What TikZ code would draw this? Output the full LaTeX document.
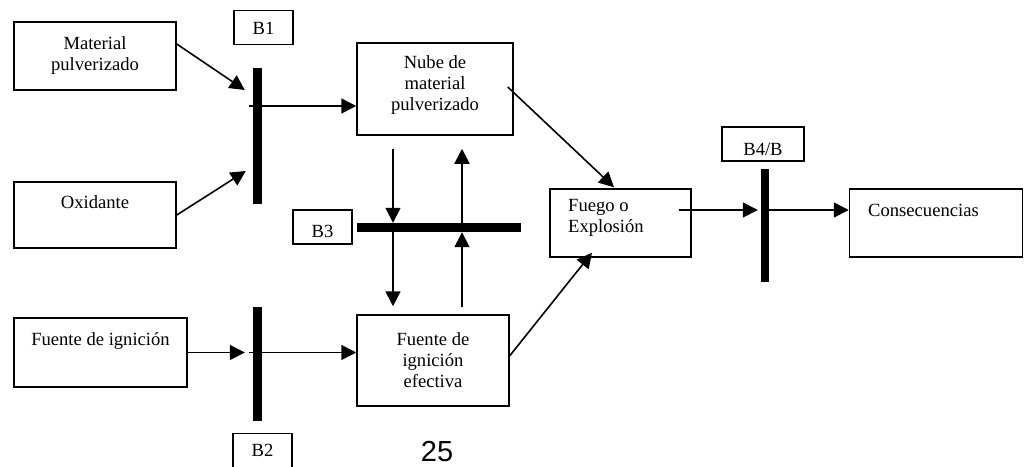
\documentclass[tikz,border=0pt]{standalone}
\usepackage{fontspec}
\setmainfont{Liberation Serif}
\newfontfamily\numfont{Liberation Sans}
\usetikzlibrary{arrows.meta}

\begin{document}
\begin{tikzpicture}[x=1pt,y=-1pt,>={Triangle[length=15pt,width=15pt]},
  box/.style={draw,line width=1.5pt,inner sep=0pt,align=center,font=\fontsize{18.6}{21}\selectfont},
  blab/.style={draw,line width=1.5pt,inner sep=0pt,minimum height=34pt,font=\fontsize{18.6}{21}\selectfont},
  bar/.style={fill=black,inner sep=0pt},
  txt/.style={inner sep=0pt,align=left,font=\fontsize{18.6}{21}\selectfont},
  arr/.style={->,line width=1.6pt}]
\useasboundingbox (0,0) rectangle (1024,466);
\clip (0,0) rectangle (1024,466);
% cajas
\node[box,minimum width=162pt,minimum height=68pt] (mat) at (95,56) {Material\\pulverizado};
\node[box,minimum width=162pt,minimum height=66pt] (ox) at (95,215) {};
\node[txt,anchor=base] (oxt) at (95,208) {Oxidante};
\node[box,minimum width=173pt,minimum height=69pt] (fig) at (100.5,352.5) {};
\node[txt,anchor=base] (figt) at (100.5,345) {Fuente de ignición};
\node[box,minimum width=156pt,minimum height=92pt,text depth=11pt] (nube) at (435,89) {Nube de\\material\\pulverizado};
\node[box,minimum width=152pt,minimum height=91pt] (fie) at (433,360.5) {Fuente de\\ignición\\efectiva};
\node[box,minimum width=141pt,minimum height=68pt] (fuego) at (620.5,223) {};
\node[txt,anchor=north west] (fuegot) at (568,199) {Fuego o\\Explosión};
\node[box,minimum width=173pt,minimum height=68pt] (cons) at (936,223) {};
\node[txt,anchor=base west] (const) at (868,216) {Consecuencias};
% barreras
\node[blab,minimum width=59pt,text height=15pt] (b1lab) at (263.5,27.5) {B1};
\node[blab,minimum width=59pt] (b2lab) at (262.5,450.5) {B2};
\node[blab,minimum width=59pt,text height=22pt] (b3lab) at (322.5,227) {B3};
\node[blab,minimum width=82pt,text height=24pt] (b4lab) at (763,144) {B4/B};
\node[bar,minimum width=9pt,minimum height=136pt] (b1bar) at (257.5,136) {};
\node[bar,minimum width=9pt,minimum height=114pt] (b2bar) at (257.5,364) {};
\node[bar,minimum width=164pt,minimum height=9pt] (b3bar) at (439,227.5) {};
\node[bar,minimum width=8pt,minimum height=113pt] (b4bar) at (765,225.5) {};
% flechas
\draw[arr] ([yshift=12pt]mat.east) -- ([xshift=-8pt,yshift=46pt]b1bar.west);
\draw[arr] (ox.east) -- ([xshift=-7pt,yshift=-35pt]b1bar.west);
\draw[arr] ([xshift=-4pt,yshift=30pt]b1bar.west) -- ([yshift=-17pt]nube.west);
\draw[arr] (fig.east) -- ([xshift=-8pt,yshift=11.5pt]b2bar.west);
\draw[arr] ([xshift=-4pt,yshift=11.5pt]b2bar.west) -- ([yshift=8pt]fie.west);
\draw[arr] ([xshift=-42pt,yshift=-13pt]nube.south) -- ([xshift=-46pt]b3bar.north);
\draw[arr] ([xshift=-46pt]b3bar.south) -- ([xshift=-40pt,yshift=8pt]fie.north);
\draw[arr] ([xshift=29pt,yshift=7pt]fie.north) -- ([xshift=23pt]b3bar.south);
\draw[arr] ([xshift=23pt]b3bar.north) -- ([xshift=27pt,yshift=-13pt]nube.south);
\draw[arr] ([xshift=-6pt,yshift=2pt]nube.east) -- ([xshift=-6.5pt,yshift=1pt]fuego.north);
\draw[arr] ([xshift=-1pt,yshift=3.5pt]fie.east) -- ([xshift=-28.5pt,yshift=5pt]fuego.south);
\draw[arr] ([xshift=-13pt,yshift=13pt]fuego.east) -- ([xshift=-3pt,yshift=15.5pt]b4bar.west);
\draw[arr] ([yshift=15.5pt]b4bar.east) -- ([yshift=13pt]cons.west);
\node[inner sep=0pt,font=\numfont\fontsize{29}{32}\selectfont] (pag) at (437,452) {25};
\end{tikzpicture}
\end{document}
